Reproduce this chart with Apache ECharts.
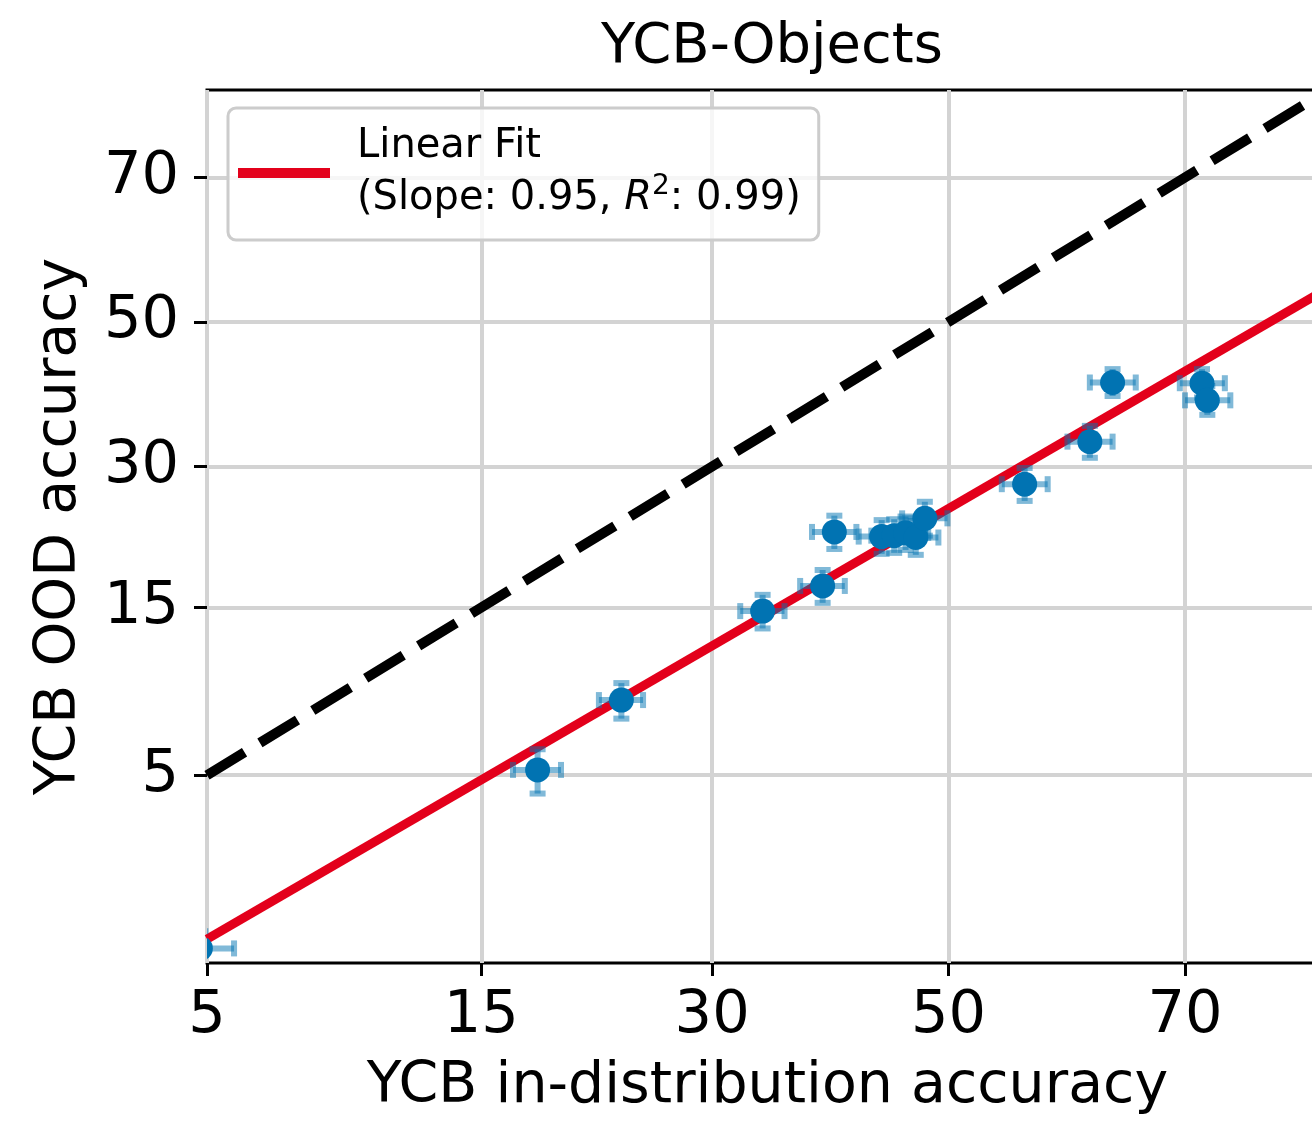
<!DOCTYPE html>
<html>
<head>
<meta charset="utf-8">
<title>YCB-Objects</title>
<script src="https://cdn.jsdelivr.net/npm/echarts@6/dist/echarts.min.js"></script>
<style>
  html, body { margin: 0; padding: 0; background: #ffffff; overflow: hidden; }
  #chart { width: 1312px; height: 1121px; }
</style>
</head>
<body>
<div id="chart"></div>
<script>
// Accuracies in percent, plotted on probit-scaled axes.
const tickPercents = [5, 15, 30, 50, 70];
const xRange = [5, 80];
const yRange = [1, 80];

// In-distribution accuracy (x) and OOD accuracy (y) per model, with error half-widths.
const idAcc  = [4.85, 18.1, 23.4, 34.0, 39.0, 40.0, 44.1, 45.2, 46.2, 47.1, 47.9, 56.7, 62.3, 64.2, 71.3, 71.7];
const oodAcc = [1.15,  5.2,  8.5, 14.7, 16.9, 22.3, 21.8, 21.9, 22.2, 21.7, 23.8, 27.8, 33.2, 41.3, 41.2, 38.8];
const idErr  = [0.80,  1.4,  1.5,  1.8,  1.9,  1.9,  2.0,  2.0,  2.0,  2.0,  2.0,  2.0,  1.9,  1.9,  1.7,  1.7];
const oodErr = [0.20, 0.85,  1.0,  1.4,  1.5,  1.8,  1.8,  1.8,  1.8,  1.8,  1.9,  2.0,  2.1,  1.9,  2.0,  2.0];

// Linear fit in probit space: probit(y) = slope * probit(x) + intercept
const fitSlope = 0.95;
const fitIntercept = -0.677;
const fitR2 = 0.99;

const FONT = 'DejaVu Sans';
const DOT = '#0173b2';
const BAR = 'rgba(1,115,178,0.5)';
const FIT = '#e3001b';

// Inverse standard normal CDF (Acklam's rational approximation)
function probit(p) {
  const a = [-3.969683028665376e+01, 2.209460984245205e+02, -2.759285104469687e+02,
             1.383577518672690e+02, -3.066479806614716e+01, 2.506628277459239e+00];
  const b = [-5.447609879822406e+01, 1.615858368580409e+02, -1.556989798598866e+02,
             6.680131188771972e+01, -1.328068155288572e+01];
  const c = [-7.784894002430293e-03, -3.223964580411365e-01, -2.400758277161838e+00,
             -2.549732539343734e+00, 4.374664141464968e+00, 2.938163982698783e+00];
  const d = [7.784695709041462e-03, 3.224671290700398e-01, 2.445134137142996e+00,
             3.754408661907416e+00];
  const pl = 0.02425, ph = 1 - pl;
  let q, r;
  if (p < pl) {
    q = Math.sqrt(-2 * Math.log(p));
    return (((((c[0]*q + c[1])*q + c[2])*q + c[3])*q + c[4])*q + c[5]) /
           ((((d[0]*q + d[1])*q + d[2])*q + d[3])*q + 1);
  }
  if (p <= ph) {
    q = p - 0.5; r = q * q;
    return (((((a[0]*r + a[1])*r + a[2])*r + a[3])*r + a[4])*r + a[5]) * q /
           (((((b[0]*r + b[1])*r + b[2])*r + b[3])*r + b[4])*r + 1);
  }
  q = Math.sqrt(-2 * Math.log(1 - p));
  return -(((((c[0]*q + c[1])*q + c[2])*q + c[3])*q + c[4])*q + c[5]) /
          ((((d[0]*q + d[1])*q + d[2])*q + d[3])*q + 1);
}
const P = v => probit(v / 100);

const tickValues = tickPercents.map(P);
const tickLabel = v => {
  const t = tickPercents.find(t => Math.abs(P(t) - v) < 1e-6);
  return t === undefined ? '' : String(t);
};

// Error-bar records in probit units: [x, y, xLo, xHi, yLo, yHi]
const pointData = idAcc.map((x, i) => [
  P(x), P(oodAcc[i]),
  P(x - idErr[i]), P(x + idErr[i]),
  P(oodAcc[i] - oodErr[i]), P(oodAcc[i] + oodErr[i])
]);

const fitLine = xRange.map(x => [P(x), fitSlope * P(x) + fitIntercept]);
const diagonal = [5, 80].map(v => [P(v), P(v)]);

const chart = echarts.init(document.getElementById('chart'), null, { renderer: 'canvas' });

function axisCommon(name, min, max) {
  return {
    type: 'value',
    min: min,
    max: max,
    name: name,
    nameLocation: 'middle',
    nameTextStyle: { fontFamily: FONT, fontSize: 57, color: '#000' },
    axisLine: { show: false, onZero: false },
    axisTick: {
      show: true, inside: false, length: 13, customValues: tickValues,
      lineStyle: { color: '#000', width: 3 }
    },
    axisLabel: {
      show: true, customValues: tickValues, formatter: tickLabel,
      fontFamily: FONT, fontSize: 59, color: '#000'
    },
    splitLine: { show: true, lineStyle: { color: '#d3d3d3', width: 4 } }
  };
}

const xAxis = axisCommon('YCB in-distribution accuracy', P(xRange[0]), P(xRange[1]));
xAxis.nameGap = 96;
xAxis.axisLabel.margin = 24;
const yAxis = axisCommon('YCB OOD accuracy', P(yRange[0]), P(yRange[1]));
yAxis.nameGap = 118;
yAxis.axisLabel.margin = 28;

function errorBars(params, api) {
  const y = api.value(1);
  const xl = api.coord([api.value(2), y]);
  const xh = api.coord([api.value(3), y]);
  const c = api.coord([api.value(0), y]);
  const yl = api.coord([api.value(0), api.value(4)]);
  const yh = api.coord([api.value(0), api.value(5)]);
  const cap = 8;
  const st = { stroke: BAR, lineWidth: 6, fill: null };
  const line = (x1, y1, x2, y2) => ({ type: 'line', shape: { x1, y1, x2, y2 }, style: st });
  return {
    type: 'group',
    children: [
      line(xl[0], c[1], xh[0], c[1]),
      line(xl[0], c[1] - cap, xl[0], c[1] + cap),
      line(xh[0], c[1] - cap, xh[0], c[1] + cap),
      line(c[0], yl[1], c[0], yh[1]),
      line(c[0] - cap, yl[1], c[0] + cap, yl[1]),
      line(c[0] - cap, yh[1], c[0] + cap, yh[1])
    ]
  };
}

function dots(params, api) {
  const c = api.coord([api.value(0), api.value(1)]);
  return { type: 'circle', shape: { cx: c[0], cy: c[1], r: 12.5 }, style: { fill: DOT } };
}

const option = {
  backgroundColor: '#ffffff',
  animation: false,
  title: {
    text: 'YCB-Objects',
    left: 767, top: 14, textAlign: 'center',
    textStyle: { fontFamily: FONT, fontSize: 56, fontWeight: 'normal', color: '#000' }
  },
  grid: {
    left: 207, top: 90, width: 1121, height: 873,
    outerBoundsMode: 'none',
    containLabel: false,
    show: true, borderColor: '#000', borderWidth: 3, backgroundColor: 'transparent'
  },
  legend: {
    show: true,
    data: ['Linear Fit'],
    left: 228, top: 108,
    orient: 'vertical',
    icon: 'rect',
    itemWidth: 92, itemHeight: 10,
    padding: [13, 18, 15, 10],
    backgroundColor: 'rgba(255,255,255,0.8)',
    borderColor: '#cccccc', borderWidth: 3, borderRadius: 8,
    selectedMode: false,
    formatter: name => name + '\n(Slope: ' + fitSlope.toFixed(2) + ', {it|R}{sup|2}: ' + fitR2.toFixed(2) + ')',
    textStyle: {
      fontFamily: FONT, fontSize: 40, lineHeight: 52, color: '#000',
      padding: [0, 0, 0, 22],
      rich: {
        it: { fontFamily: FONT, fontSize: 40, lineHeight: 52, fontStyle: 'italic', color: '#000' },
        sup: { fontFamily: FONT, fontSize: 28, lineHeight: 52, verticalAlign: 'top', color: '#000' }
      }
    }
  },
  xAxis: xAxis,
  yAxis: yAxis,
  series: [
    {
      name: 'Linear Fit',
      type: 'line',
      data: fitLine,
      showSymbol: false,
      clip: true,
      silent: true,
      z: 3,
      itemStyle: { color: FIT },
      lineStyle: { color: FIT, width: 9, cap: 'butt' }
    },
    {
      name: 'y = x',
      type: 'line',
      data: diagonal,
      showSymbol: false,
      clip: true,
      silent: true,
      z: 3,
      itemStyle: { color: '#000' },
      lineStyle: { color: '#000', width: 10, type: [44, 18], cap: 'butt' }
    },
    {
      name: 'error',
      type: 'custom',
      data: pointData,
      renderItem: errorBars,
      clip: true,
      silent: true,
      z: 4
    },
    {
      name: 'models',
      type: 'custom',
      data: pointData,
      renderItem: dots,
      clip: true,
      silent: true,
      z: 5
    }
  ]
};

chart.setOption(option);
</script>
</body>
</html>
